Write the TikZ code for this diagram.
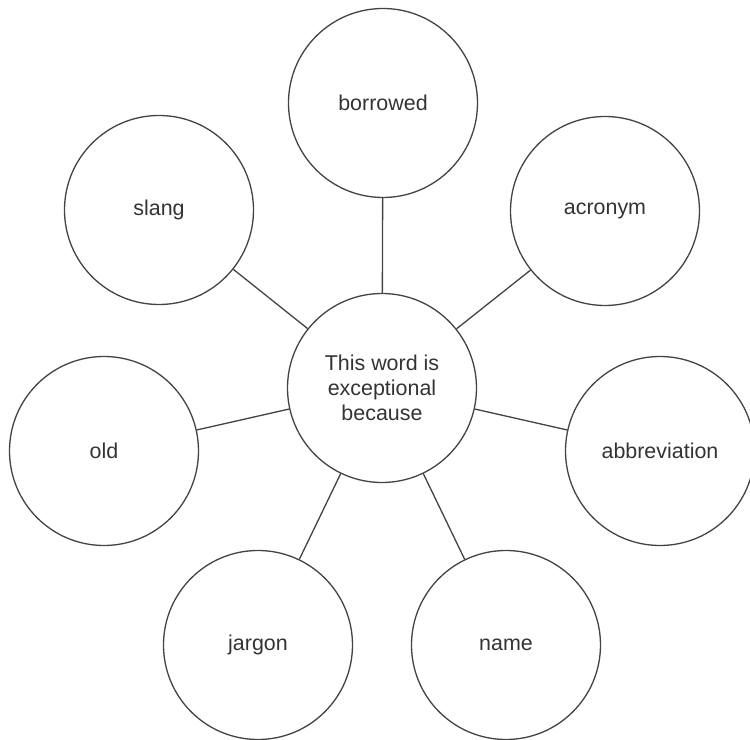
\documentclass[tikz,border=0pt]{standalone}
\usepackage{fontspec}
\setmainfont{Liberation Sans}
\usepackage{tikz}
\usetikzlibrary{positioning, calc}
\definecolor{rimgray}{HTML}{444444}
\definecolor{wordgray}{HTML}{333333}

\begin{document}
\begin{tikzpicture}[every node/.append style={font=\fontsize{12.2}{14.4}\selectfont,text=wordgray},
	reason/.style={circle,draw=rimgray,line width=0.75pt,minimum size=3.78cm,inner sep=0pt,align=center},
	spoke/.style={draw=rimgray,line width=0.75pt}]
			\useasboundingbox (0,0) rectangle (15,14.8);
			% middle circle
			\node[reason] (core) at (7.64,7.04) {This word is\\exceptional\\because};
			% outer circles, clockwise from the top
			\node[reason] (borrowed) at (7.66,12.74) {borrowed};
			\node[reason] (acronym) at (12.1,10.58) {acronym};
			\node[reason] (abbrev) at (13.2,5.78) {abbreviation};
			\node[reason] (name) at (10.12,1.9) {name};
			\node[reason] (jargon) at (5.16,1.9) {jargon};
			\node[reason] (old) at (2.08,5.78) {old};
			\node[reason] (slang) at (3.18,10.6) {slang};
			% spokes
			\foreach \outer in {borrowed,acronym,abbrev,name,jargon,old,slang}
			\draw[spoke] (core) -- (\outer);
\end{tikzpicture}
\end{document}
